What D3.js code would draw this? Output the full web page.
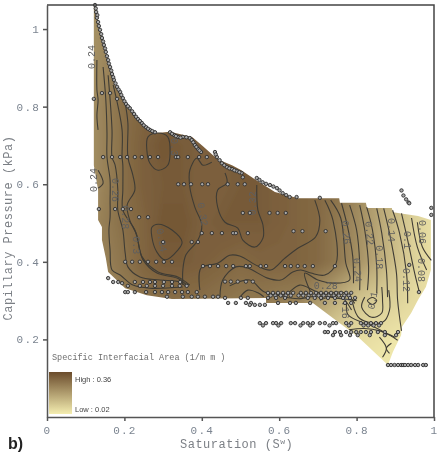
<!DOCTYPE html>
<html>
<head>
<meta charset="utf-8">
<script src="https://cdn.jsdelivr.net/npm/d3@7"></script>
<style>
html, body { margin: 0; padding: 0; background: #fff; }
svg { display: block; filter: blur(0.4px); }
</style>
</head>
<body>
<script>
const svg_width = 438;
const svg_height = 454;
const left_x = 47, right_x = 434, top_y = 5, bottom_y = 417;

const x_ticks = [0, 0.2, 0.4, 0.6, 0.8, 1];
const y_ticks = [0.2, 0.4, 0.6, 0.8, 1];
const legend_high = 0.36;
const legend_low = 0.02;

// area field read from the shading: one row per pressure, one value per saturation
const grid_sat = [0.10, 0.15, 0.20, 0.25, 0.30, 0.35, 0.40, 0.45, 0.50, 0.55, 0.60, 0.65, 0.70, 0.75, 0.80, 0.85, 0.90, 0.95, 1.00];
const grid_pressure = [1.1, 1.0, 0.9, 0.8, 0.7, 0.6, 0.5, 0.4, 0.3, 0.2, 0.1];
const grid_values = [
    [.22, .24, .27, .29, .30, .31, .32, .32, .32, .32, .32, .32, .30, .28, .24, .18, .13, .08, .05],
    [.21, .23, .27, .29, .30, .31, .32, .32, .32, .32, .32, .32, .30, .28, .24, .18, .13, .08, .05],
    [.21, .24, .28, .30, .31, .32, .32, .32, .32, .32, .32, .32, .30, .28, .24, .18, .13, .08, .05],
    [.21, .25, .29, .31, .32, .32, .32, .32, .32, .32, .32, .32, .30, .28, .24, .18, .13, .08, .05],
    [.21, .25, .29, .32, .34, .33, .32, .32, .33, .33, .32, .32, .30, .28, .24, .18, .13, .08, .05],
    [.21, .25, .29, .32, .33, .33, .32, .32, .33, .33, .32, .31, .30, .28, .24, .18, .13, .08, .05],
    [.22, .26, .29, .31, .34, .34, .32, .33, .33, .33, .32, .31, .30, .27, .23, .18, .13, .08, .05],
    [.22, .25, .28, .31, .33, .33, .32, .31, .30, .31, .31, .31, .30, .27, .22, .17, .12, .08, .05],
    [.22, .24, .26, .28, .29, .29, .29, .28, .27, .27, .26, .25, .20, .15, .11, .09, .08, .06, .05],
    [.22, .22, .22, .22, .22, .22, .22, .20, .20, .20, .20, .15, .10, .07, .06, .05, .04, .04, .04],
    [.20, .20, .20, .20, .20, .20, .20, .15, .15, .10, .10, .10, .07, .05, .04, .03, .03, .03, .03]
];

const region_outline = [
    [.124, 1.062], [.137, .997], [.155, .925], [.176, .856], [.207, .804], [.240, .760], [.284, .732], [.318, .735],
    [.375, .722], [.403, .698], [.429, .675], [.447, .662], [.478, .649], [.501, .637], [.540, .611], [.589, .580],
    [.649, .564], [.755, .564], [.757, .552], [.824, .552], [.827, .539], [.891, .539], [.894, .528], [.959, .518],
    [.992, .508], [.992, .379], [.979, .335], [.959, .302], [.941, .268], [.917, .232], [.915, .211], [.894, .168],
    [.881, .134], [.804, .206], [.687, .294], [.566, .294], [.566, .307], [.323, .304], [.258, .314], [.202, .332],
    [.158, .374], [.152, .410], [.142, .456], [.142, .490], [.132, .508], [.132, .585], [.121, .649], [.121, 1.062]
];

const contour_lines = [
    [[.129, .920], [.129, .843], [.132, .817], [.129, .778], [.132, .740]],
    [[.145, .902], [.152, .817], [.155, .732], [.155, .670], [.163, .611], [.163, .559], [.163, .515], [.160, .482], [.163, .430], [.168, .379], [.189, .366], [.222, .340], [.266, .332], [.351, .335]],
    [[.158, .881], [.168, .740], [.168, .670], [.176, .649], [.183, .585], [.183, .533], [.196, .482], [.202, .423], [.209, .387], [.240, .361], [.292, .353], [.343, .348], [.361, .335]],
    [[.171, .856], [.194, .740], [.194, .670], [.196, .649], [.196, .585], [.196, .533], [.227, .482], [.240, .430], [.248, .405], [.284, .371], [.336, .358], [.364, .338]],
    [[.202, .809], [.209, .758], [.209, .670], [.222, .623], [.227, .585], [.207, .546], [.214, .507], [.232, .469], [.245, .414], [.287, .374], [.338, .361], [.369, .340]],
    [[.132, .636], [.145, .603], [.132, .590]],
    [[.426, .657], [.403, .649], [.387, .667], [.369, .636], [.369, .593], [.382, .541], [.400, .495], [.390, .456], [.359, .418], [.351, .379], [.351, .340]],
    [[.460, .629], [.465, .603], [.441, .585], [.441, .541], [.460, .502], [.493, .487], [.506, .456], [.537, .438], [.558, .461], [.558, .495], [.545, .533], [.542, .598]],
    [[.395, .327], [.398, .384], [.441, .396], [.472, .417], [.498, .415], [.545, .389], [.578, .379], [.614, .409], [.648, .435], [.694, .464], [.705, .507], [.692, .559]],
    [[.718, .559], [.739, .507], [.747, .396], [.718, .366], [.682, .371], [.656, .379], [.635, .374], [.604, .353], [.570, .358], [.519, .384], [.488, .387], [.454, .353], [.447, .309]],
    [[.733, .559], [.759, .513], [.772, .397], [.782, .353], [.739, .345], [.700, .353], [.666, .371], [.682, .320]],
    [[.761, .551], [.777, .489], [.790, .414], [.792, .345]],
    [[.782, .546], [.800, .482], [.808, .396], [.808, .327]],
    [[.808, .546], [.821, .482], [.831, .387], [.828, .327]],
    [[.826, .541], [.841, .482], [.852, .387], [.852, .319]],
    [[.852, .538], [.865, .474], [.877, .379], [.880, .309]],
    [[.870, .538], [.885, .474], [.903, .371], [.906, .301], [.916, .222]],
    [[.893, .533], [.911, .474], [.929, .371], [.932, .293]],
    [[.916, .525], [.932, .456], [.950, .371], [.963, .319]],
    [[.942, .513], [.957, .438], [.981, .379]],
    [[.957, .502], [.970, .438], [.993, .404]],
    [[.865, .335], [.867, .301], [.865, .268], [.839, .257], [.813, .283], [.821, .309]],
    [[.883, .327], [.885, .275], [.867, .244], [.808, .254], [.790, .293]],
    [[.774, .291], [.777, .265], [.813, .244], [.834, .237], [.885, .211], [.906, .198]],
    [[.859, .206], [.877, .177], [.867, .154]],
    [[.890, .190], [.877, .177], [.885, .164]],
    [[.472, .338], [.524, .353], [.562, .322], [.614, .315], [.653, .340], [.705, .320], [.769, .320], [.795, .293]],
    [[.705, .301], [.756, .312], [.787, .276]],
    [[.498, .308], [.519, .327], [.545, .320], [.560, .310]],
    [[.600, .312], [.650, .305], [.700, .312], [.760, .305], [.800, .300]],
    [[.780, .225], [.820, .228], [.860, .222], [.900, .205]]
];

const closed_lines = [
    [[.261, .722], [.287, .732], [.312, .722], [.318, .680], [.312, .649], [.287, .636], [.266, .654], [.258, .688]],
    [[.271, .489], [.287, .497], [.323, .482], [.349, .451], [.338, .430], [.305, .405], [.284, .425], [.271, .464]],
    [[.828, .300], [.841, .308], [.852, .300], [.841, .290]]
];

const contour_labels = ["0.24", "0.24", "0.26", "0.28", "0.3", "0.34", "0.3", "0.32", "0.32", "0.26", "0.22", "0.24", "0.18", "0.14", "0.1", "0.12", "0.08", "0.06", "0.1", "0.16", "0.28"];
const label_sat = [.116, .119, .178, .202, .232, .297, .330, .403, .532, .774, .834, .803, .859, .890, .932, .929, .968, .970, .841, .772, .720];
const label_pressure = [.928, .611, .585, .515, .443, .456, .696, .523, .551, .476, .474, .379, .412, .482, .456, .353, .379, .477, .301, .284, .340];
const label_angle = [-90, -90, 90, 90, 90, 80, 90, 80, -90, 85, 85, 85, 90, 90, 90, 90, 90, 90, -80, 90, 0];

// measured points, grouped in the rows they sit on
const point_rows = [
    [.670, [.145, .168, .189, .207, .227, .245, .266, .287, .333, .339, .364, .393, .413]],
    [.600, [.339, .354, .372, .401, .416, .467, .493, .511]],
    [.835, [.142, .163]],
    [.820, [.121, .181]],
    [.536, [.134, .176, .196, .217]],
    [.515, [.238, .261]],
    [.526, [.506, .524, .575, .596, .617]],
    [.400, [.202, .220, .240, .261, .282, .302, .323]],
    [.451, [.300, .374, .390]],
    [.474, [.400, .426, .452, .481, .488, .519]],
    [.479, [.637, .660, .720]],
    [.389, [.403, .421, .442, .463, .481, .514, .524, .552, .566, .615, .630, .648, .666, .687, .744]],
    [.349, [.460, .475, .493, .514, .532]],
    [.348, [.171, .184, .227, .248, .266, .279, .302, .323, .344]],
    [.338, [.209, .240, .258, .279, .300, .323, .343, .361]],
    [.322, [.202, .227, .256, .279, .297, .313, .331, .349, .364, .387]],
    [.310, [.310, .351, .374, .390, .408, .429, .442]],
    [.320, [.571, .584, .597, .610, .623, .636, .656, .669, .682, .695, .708, .721, .734, .747, .760, .773, .786]],
    [.313, [.578, .590, .604, .617, .630, .650, .662, .676, .690, .702, .715, .728, .741, .754, .768, .780]],
    [.307, [.460, .501, .519, .571, .592, .615, .674, .692, .708, .726, .744, .765, .783, .796]],
    [.294, [.468, .488, .514, .527, .597, .628, .643, .680, .718, .744, .770, .786]],
    [.289, [.524, .537, .550, .563]],
    [.242, [.550, .566, .584, .592, .605, .630, .641, .662, .674, .687, .705, .718, .739, .747, .773, .786, .811, .824, .837, .850, .863]],
    [.236, [.558, .598, .655, .680, .730, .780, .818, .830, .844, .858]],
    [.219, [.718, .726, .744, .757, .773, .786, .799, .811, .824, .837, .855, .873, .907]],
    [.211, [.739, .760, .783, .803, .834, .873, .902]],
    [.134, [.881, .889, .898, .907, .915, .920, .925, .933, .941, .951, .959, .972, .979]]
];

const edge_points = [
    [.124, 1.062], [.127, 1.044], [.129, 1.029], [.132, 1.018], [.137, .998], [.142, .977], [.147, .959], [.152, .941],
    [.158, .920], [.163, .902], [.168, .884], [.173, .869], [.181, .851], [.189, .838], [.196, .822], [.204, .807],
    [.214, .796], [.225, .781], [.235, .768], [.245, .758], [.256, .747], [.266, .740], [.279, .734], [.318, .734],
    [.328, .727], [.338, .722], [.351, .722], [.369, .719], [.374, .714], [.382, .701], [.390, .691], [.398, .683],
    [.434, .683], [.439, .670], [.452, .654], [.465, .644], [.478, .639], [.490, .634], [.503, .629], [.506, .618],
    [.542, .616], [.557, .605], [.576, .598], [.594, .590], [.609, .577], [.627, .567], [.645, .567], [.705, .565],
    [.916, .584], [.921, .571], [.928, .561], [.934, .553], [.936, .551], [.993, .539], [.993, .521], [.936, .392],
    [.961, .322], [.158, .358], [.194, .345], [.209, .322],
    [.126, 1.053], [.130, 1.036], [.134, 1.008], [.140, .987], [.145, .968], [.150, .950], [.155, .930], [.160, .911],
    [.166, .893], [.171, .876], [.177, .860], [.185, .844], [.192, .830], [.200, .814], [.209, .801], [.220, .788],
    [.230, .774], [.240, .763], [.250, .752], [.261, .743], [.272, .737], [.323, .730], [.333, .724], [.345, .720],
    [.360, .721], [.378, .708], [.386, .696], [.394, .687], [.436, .677], [.446, .662], [.458, .649], [.471, .641],
    [.484, .636], [.497, .631], [.549, .611], [.566, .601], [.585, .594], [.601, .584], [.618, .572]
];

const x = d3.scaleLinear().domain([0, 1]).range([left_x, right_x]);
const y = d3.scaleLinear().domain([0, 1.062]).range([bottom_y, top_y]);
const color = d3.scaleLinear().domain([legend_low, legend_high]).range(["#f4edb0", "#6b4c2c"]);

const svg = d3.select('body')
    .append('svg')
    .attr('width', svg_width)
    .attr('height', svg_height);

const defs = svg.append('defs');

defs.append('clipPath')
    .attr('id', 'region_clip')
    .append('path')
    .attr('d', d3.line().x(d => x(d[0])).y(d => y(d[1]))(region_outline) + 'Z');

defs.append('filter')
    .attr('id', 'field_blur')
    .attr('x', '-5%').attr('y', '-5%').attr('width', '110%').attr('height', '110%')
    .append('feGaussianBlur')
    .attr('stdDeviation', 2.5);

const legend_gradient = defs.append('linearGradient')
    .attr('id', 'legend_gradient')
    .attr('x1', 0).attr('y1', 0).attr('x2', 0).attr('y2', 1);
legend_gradient.append('stop').attr('offset', '0%').attr('stop-color', color(legend_high));
legend_gradient.append('stop').attr('offset', '100%').attr('stop-color', color(legend_low));

// filled shading
const n_cols = grid_sat.length, n_rows = grid_pressure.length;
const field = d3.contours().size([n_cols, n_rows]).thresholds(d3.range(0, 0.37, 0.005))(grid_values.flat());
const sat_idx = d3.scaleLinear().domain([0.5, n_cols - 0.5]).range([grid_sat[0], grid_sat[n_cols - 1]]);
const pre_idx = d3.scaleLinear().domain([0.5, n_rows - 0.5]).range([grid_pressure[0], grid_pressure[n_rows - 1]]);
const field_path = d3.geoPath(d3.geoTransform({
    point: function (i, j) { this.stream.point(x(sat_idx(i)), y(pre_idx(j))); }
}));

svg.append('g')
    .attr('clip-path', 'url(#region_clip)')
    .append('g')
    .attr('filter', 'url(#field_blur)')
    .selectAll('path')
    .data(field)
    .join('path')
    .attr('d', field_path)
    .attr('fill', d => color(d.value));

// contours
const contour_g = svg.append('g').attr('fill', 'none').attr('stroke', '#3f3c35').attr('stroke-width', 1.1);
const open_line = d3.line().x(d => x(d[0])).y(d => y(d[1])).curve(d3.curveCatmullRom.alpha(0.5));
const loop_line = d3.line().x(d => x(d[0])).y(d => y(d[1])).curve(d3.curveCatmullRomClosed.alpha(0.5));
contour_g.selectAll('path.open').data(contour_lines).join('path').attr('class', 'open').attr('d', open_line);
contour_g.selectAll('path.loop').data(closed_lines).join('path').attr('class', 'loop').attr('d', loop_line);

// contour labels
svg.append('g')
    .selectAll('text')
    .data(contour_labels)
    .join('text')
    .attr('transform', (d, i) => `translate(${x(label_sat[i])},${y(label_pressure[i])}) rotate(${label_angle[i]})`)
    .attr('text-anchor', 'middle')
    .attr('dy', '0.35em')
    .style('font-family', '"Liberation Mono", monospace')
    .style('font-size', '10px')
    .style('fill', '#5f5f5f')
    .text(d => d);

// points
const all_points = point_rows.flatMap(r => r[1].map(s => [s, r[0]])).concat(edge_points);
svg.append('g')
    .selectAll('circle')
    .data(all_points)
    .join('circle')
    .attr('cx', d => x(d[0]))
    .attr('cy', d => y(d[1]))
    .attr('r', 1.7)
    .attr('fill', '#a8a8a8')
    .attr('stroke', '#2e2e2e')
    .attr('stroke-width', 0.9);

// axes
const tick_style = function (g) {
    g.selectAll('path, line').attr('stroke', '#555').attr('stroke-width', 1.5);
    g.selectAll('text')
        .style('font-family', '"Liberation Mono", monospace')
        .style('font-size', '11px')
        .style('letter-spacing', '1.2px')
        .style('fill', '#7b8490');
};

svg.append('g')
    .attr('transform', `translate(0,${bottom_y})`)
    .call(d3.axisBottom(x).tickValues(x_ticks).tickFormat(d3.format('')).tickSize(4).tickSizeOuter(0).tickPadding(5))
    .call(tick_style);

svg.append('g')
    .attr('transform', `translate(${left_x},0)`)
    .call(d3.axisLeft(y).tickValues(y_ticks).tickFormat(d3.format('')).tickSize(4).tickSizeOuter(0).tickPadding(3))
    .call(tick_style);

svg.append('path')
    .attr('d', d3.line()([[x(0), y(1.062)], [x(1), y(1.062)], [x(1), y(0)]]))
    .attr('fill', 'none')
    .attr('stroke', '#444')
    .attr('stroke-width', 1.5);

const title_style = function (t) {
    t.style('font-family', '"Liberation Mono", monospace')
        .style('font-size', '12px')
        .style('letter-spacing', '0.5px')
        .style('fill', '#7b7f85');
};

const x_title = svg.append('text')
    .attr('x', 180)
    .attr('y', 448)
    .call(title_style);
x_title.append('tspan').text('Saturation (S');
x_title.append('tspan').attr('dy', -4).style('font-size', '8px').text('w');
x_title.append('tspan').attr('dy', 4).text(')');

svg.append('text')
    .attr('transform', 'translate(12,228) rotate(-90)')
    .attr('text-anchor', 'middle')
    .call(title_style)
    .text('Capillary Pressure (kPa)');

svg.append('text')
    .attr('x', 8)
    .attr('y', 449)
    .style('font-family', '"Liberation Sans", sans-serif')
    .style('font-size', '16px')
    .style('font-weight', 'bold')
    .style('fill', '#222')
    .text('b)');

// legend
svg.append('text')
    .attr('x', 52)
    .attr('y', 360)
    .style('font-family', '"Liberation Mono", monospace')
    .style('font-size', '8.5px')
    .style('fill', '#6e6e6e')
    .text('Specific Interfacial Area (1/m m )');

svg.append('rect')
    .attr('x', 49)
    .attr('y', 372)
    .attr('width', 23)
    .attr('height', 42)
    .attr('fill', 'url(#legend_gradient)');

const legend_text = [`High : ${legend_high}`, `Low : ${legend_low}`];
svg.append('g')
    .selectAll('text')
    .data(legend_text)
    .join('text')
    .attr('x', 75)
    .attr('y', (d, i) => i === 0 ? 382 : 412)
    .style('font-family', '"Liberation Sans", sans-serif')
    .style('font-size', '7.5px')
    .style('fill', '#444')
    .text(d => d);
</script>
</body>
</html>
